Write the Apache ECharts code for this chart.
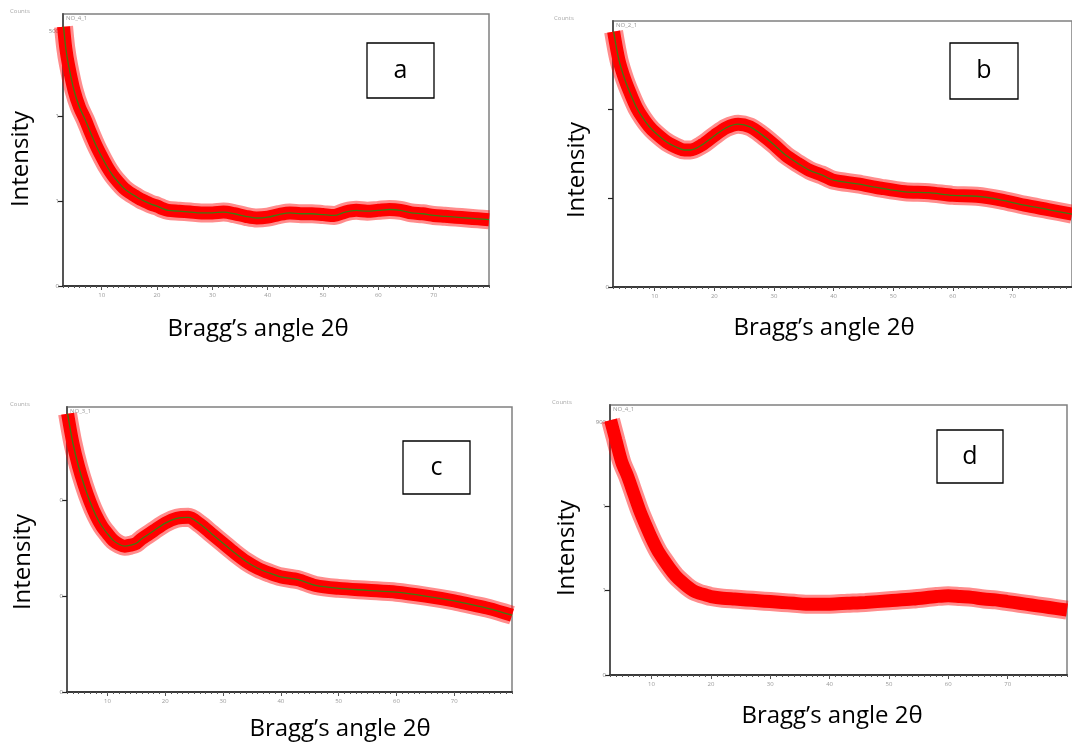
<!DOCTYPE html>
<html>
<head>
<meta charset="utf-8">
<script src="https://cdn.jsdelivr.net/npm/echarts@6/dist/echarts.min.js"></script>
<style>
  html, body { margin: 0; padding: 0; background: #fff; }
  #chart { width: 1072px; height: 747px; }
</style>
</head>
<body>
<div id="chart"></div>
<script>
// x tick labels (2theta) shared by all four panels
const xTicks = [10, 20, 30, 40, 50, 60, 70];

// panel a  (NO_4_1)
const xA = [3.1, 3.5, 4, 5, 6, 7, 8, 9, 10, 11, 12, 13, 14, 15, 16, 17, 18, 19, 20, 21, 22,
  24, 26, 28, 30, 32, 34, 36, 38, 40, 42, 44, 46, 48, 50, 52, 54, 56, 58, 60, 62, 64, 66, 68, 70, 72, 74, 76, 78, 80];
const yA = [3.05, 2.8, 2.6, 2.3, 2.1, 1.96, 1.8, 1.65, 1.52, 1.4, 1.3, 1.22, 1.15, 1.1, 1.06, 1.02, 0.99, 0.96, 0.94, 0.91, 0.89,
  0.88, 0.87, 0.86, 0.86, 0.87, 0.85, 0.82, 0.80, 0.81, 0.84, 0.86, 0.85, 0.85, 0.84, 0.83, 0.87, 0.89, 0.88, 0.89, 0.90, 0.89, 0.86, 0.85, 0.83, 0.82, 0.81, 0.80, 0.79, 0.78];
const yLabelsA = ['0', '1', '1', '500'];

// panel b  (NO_2_1)
const xB = [3.1, 4, 5, 6, 7, 8, 9, 10, 12, 14, 15, 16, 18, 20, 22, 24, 26, 28, 30, 32, 34, 36, 38, 40,
  44, 48, 52, 56, 60, 64, 68, 72, 76, 80];
const yB = [2.87, 2.55, 2.33, 2.16, 2.01, 1.9, 1.81, 1.74, 1.63, 1.56, 1.54, 1.54, 1.6, 1.7, 1.79, 1.83, 1.80, 1.71, 1.6, 1.48, 1.39, 1.31, 1.26, 1.2,
  1.16, 1.11, 1.07, 1.06, 1.03, 1.02, 0.98, 0.92, 0.87, 0.82];
const yLabelsB = ['0', '', ''];

// panel c  (NO_3_1)
const xC = [3.1, 4, 5, 6, 7, 8, 9, 10, 11, 12, 13, 14, 15, 16, 18, 20, 22, 24, 26, 28, 30, 32, 34, 36, 38, 40,
  43, 46, 50, 55, 60, 65, 70, 73, 76, 80];
const yC = [2.9, 2.6, 2.35, 2.15, 1.98, 1.84, 1.73, 1.65, 1.58, 1.54, 1.52, 1.53, 1.55, 1.6, 1.68, 1.76, 1.81, 1.82, 1.75, 1.65, 1.55, 1.45, 1.36, 1.29, 1.24, 1.2,
  1.17, 1.11, 1.08, 1.06, 1.04, 1.0, 0.95, 0.91, 0.87, 0.8];
const yLabelsC = ['0', '0', '0'];

// panel d  (NO_4_1, no fit line)
const xD = [3.1, 4, 5, 6, 7, 8, 9, 10, 11, 12, 13, 14, 15, 16, 17, 18, 19, 20, 22, 24, 26, 28, 30, 32, 34, 36, 38, 40,
  43, 46, 50, 54, 58, 60, 62, 64, 66, 68, 70, 72, 74, 76, 78, 80];
const yD = [3.02, 2.78, 2.52, 2.35, 2.15, 1.95, 1.78, 1.62, 1.48, 1.37, 1.27, 1.18, 1.11, 1.05, 1.0, 0.97, 0.95, 0.93, 0.91, 0.9, 0.89, 0.88, 0.87, 0.86, 0.85, 0.84, 0.84, 0.84,
  0.85, 0.86, 0.88, 0.9, 0.93, 0.94, 0.93, 0.92, 0.9, 0.89, 0.87, 0.85, 0.83, 0.81, 0.79, 0.77];
const yLabelsD = ['0', '1', '1', '900'];

const panels = [
  { x: xA, y: yA, labels: yLabelsA, name: 'NO_4_1', letter: 'a', fit: true,
    grid: [63, 14, 426, 272], ymax: 3.2, box: [367, 43, 67, 55], intens: [21, 159], title: [258, 329], counts: [10, 8] },
  { x: xB, y: yB, labels: yLabelsB, name: 'NO_2_1', letter: 'b', fit: true,
    grid: [613, 21, 467, 266], ymax: 2.99, box: [950, 43, 68, 56], intens: [577, 170], title: [824, 328], counts: [554, 15] },
  { x: xC, y: yC, labels: yLabelsC, name: 'NO_3_1', letter: 'c', fit: true,
    grid: [67, 407, 445, 285], ymax: 2.97, box: [403, 441, 67, 53], intens: [23, 562], title: [340, 729], counts: [10, 401] },
  { x: xD, y: yD, labels: yLabelsD, name: 'NO_4_1', letter: 'd', fit: false,
    grid: [610, 405, 457, 270], ymax: 3.2, box: [937, 430, 66, 53], intens: [567, 548], title: [832, 716], counts: [552, 399] }
];

const FONT = '"Open Sans", sans-serif';
const grids = [], xAxes = [], yAxes = [], series = [], graphics = [];

panels.forEach((p, i) => {
  const [l, t, w, h] = p.grid;
  grids.push({ left: l, top: t, width: w, height: h, show: true, borderColor: '#808080', borderWidth: 1.5 });

  // minor ticks every degree
  xAxes.push({
    gridIndex: i, type: 'value', min: 3, max: 80, interval: 1, position: 'bottom',
    axisLine: { lineStyle: { color: '#3a3a3a', width: 2 } },
    axisTick: { length: 2, lineStyle: { color: '#555', width: 1 } },
    axisLabel: { show: false }, splitLine: { show: false }
  });
  // labelled ticks every 10 degrees
  xAxes.push({
    gridIndex: i, type: 'value', min: 3, max: 80, position: 'bottom',
    axisLine: { show: false },
    axisTick: { customValues: xTicks, length: 4, lineStyle: { color: '#555', width: 1 } },
    axisLabel: { customValues: xTicks, color: '#999', fontSize: 6, margin: 6, fontFamily: FONT },
    splitLine: { show: false }
  });
  const yTicks = p.labels.map((s, k) => k);
  yAxes.push({
    gridIndex: i, type: 'value', min: 0, max: p.ymax,
    axisLine: { show: true, lineStyle: { color: '#555', width: 2 } },
    axisTick: { show: true, customValues: yTicks, length: 5, lineStyle: { color: '#222', width: 1.2 } },
    axisLabel: { customValues: yTicks, formatter: v => p.labels[Math.round(v)], color: '#888', fontSize: 6, margin: 4, fontFamily: FONT },
    splitLine: { show: false }
  });

  const pts = p.x.map((xv, k) => [xv, p.y[k]]);
  series.push({
    type: 'line', xAxisIndex: 2 * i, yAxisIndex: i, data: pts, smooth: 0.3, showSymbol: false, silent: true,
    lineStyle: { color: 'rgba(255,0,0,0.45)', width: 19 }, z: 1
  });
  series.push({
    type: 'line', xAxisIndex: 2 * i, yAxisIndex: i, data: pts, smooth: 0.3, showSymbol: false, silent: true,
    lineStyle: { color: '#ff0000', width: 13 }, z: 2
  });
  if (p.fit) {
    series.push({
      type: 'line', xAxisIndex: 2 * i, yAxisIndex: i, data: pts, smooth: 0.3, showSymbol: false, silent: true,
      lineStyle: { color: '#3f7a10', width: 1.3 }, z: 3
    });
  }

  graphics.push({ type: 'text', left: p.counts[0], top: p.counts[1],
    style: { text: 'Counts', fill: '#aaa', font: '6px ' + FONT } });
  graphics.push({ type: 'text', left: l + 3, top: t + 1, z: 5,
    style: { text: p.name, fill: '#999', font: '6px ' + FONT } });
  graphics.push({ type: 'rect', shape: { x: p.box[0], y: p.box[1], width: p.box[2], height: p.box[3] },
    style: { fill: '#fff', stroke: '#000', lineWidth: 1.3 }, z: 10 });
  graphics.push({ type: 'text', x: p.box[0] + p.box[2] / 2, y: p.box[1] + p.box[3] / 2, z: 11,
    style: { text: p.letter, fill: '#000', font: '25px ' + FONT, align: 'center', verticalAlign: 'middle' } });
  graphics.push({ type: 'text', x: p.intens[0], y: p.intens[1], rotation: Math.PI / 2,
    style: { text: 'Intensity', fill: '#000', font: '24px ' + FONT, align: 'center', verticalAlign: 'middle' } });
  graphics.push({ type: 'text', x: p.title[0], y: p.title[1],
    style: { text: 'Bragg\u2019s angle 2\u03b8', fill: '#000', font: '24px ' + FONT, align: 'center', verticalAlign: 'middle' } });
});

const myChart = echarts.init(document.getElementById('chart'));
myChart.setOption({
  backgroundColor: '#ffffff',
  animation: false,
  grid: grids,
  xAxis: xAxes,
  yAxis: yAxes,
  series: series,
  graphic: graphics
});
</script>
</body>
</html>
